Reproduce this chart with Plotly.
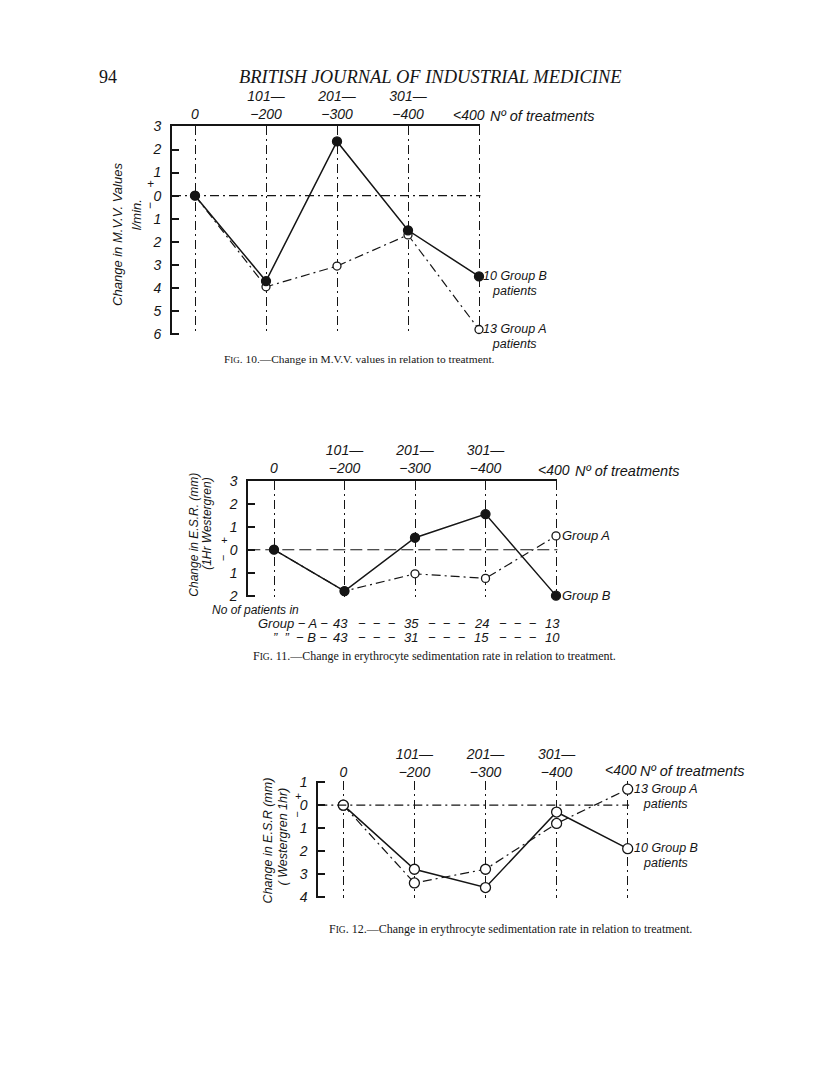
import plotly.graph_objects as go

W, H = 816, 1079
OFF = 8  # the page body margin shifts the figure by 8 px

# ---------------- data ----------------
positions = [0, 1, 2, 3, 4]
tick_labels = ["0", "101—<br>−200", "201—<br>−300", "301—<br>−400", "&lt;400"]

# Fig. 10 – change in M.V.V. values (l/min.)
mvv_group_b = [0, -3.7, 2.35, -1.5, -3.5]
mvv_group_a = [0, -3.95, -3.05, -1.7, -5.8]

# Fig. 11 – change in E.S.R. (mm, 1 hr Westergren)
esr11_group_b = [0, -1.8, 0.52, 1.55, -2.0]
esr11_group_a = [0, -1.8, -1.05, -1.25, 0.6]
patients_a = [43, 35, 24, 13]
patients_b = [43, 31, 15, 10]

# Fig. 12 – change in E.S.R. (mm, Westergren 1 hr)
esr12_group_b = [0, -2.8, -3.6, -0.3, -1.9]
esr12_group_a = [0, -3.4, -2.8, -0.8, 0.7]

# ---------------- layout helpers ----------------
INK = "#151515"
SANS = "Liberation Sans"
SERIF = "Liberation Serif"
DASHDOT = "9px,4px,2px,4px"


def P(x):
    return (x - OFF) / W


def Q(y):
    return 1 - (y - OFF) / H


panels = [
    dict(x0=195.0, step=71.0, left=172.0, z=190.2, unit=23.4, ymin=-6, ymax=3, top=True,
         lastshift=8, nshift=9),
    dict(x0=274.0, step=70.5, left=248.3, z=549.2, unit=23.3, ymin=-2, ymax=3, top=True,
         lastshift=16, nshift=17),
    dict(x0=343.3, step=71.1, left=318.3, z=808.3, unit=23.2, ymin=-4, ymax=1, top=False,
         lastshift=11, nshift=10),
]

fig = go.Figure()
layout = dict(
    width=W, height=H, margin=dict(l=0, r=0, t=0, b=0),
    paper_bgcolor="white", plot_bgcolor="rgba(0,0,0,0)",
    showlegend=False, annotations=[], shapes=[],
)

tick_font = dict(family=SANS, size=14, color=INK, style="italic")

for i, p in enumerate(panels):
    n = "" if i == 0 else str(i + 1)
    xr0 = (p["left"] - p["x0"]) / p["step"]
    xr1 = 4.02
    ylo = p["ymin"] - 0.05
    yhi = p["ymax"] + (0 if p["top"] else 0.06)
    xdom = [P(p["left"]), P(p["x0"] + xr1 * p["step"])]
    ydom = [Q(p["z"] - p["unit"] * ylo), Q(p["z"] - p["unit"] * yhi)]
    # the last category label sits left of its gridline, so it is placed as its own text below
    labels = tick_labels[:-1] + [""]
    layout["xaxis" + n] = dict(
        domain=xdom, range=[xr0, xr1], anchor="y" + n, side="top",
        showline=p["top"], linewidth=2, linecolor=INK,
        tickmode="array", tickvals=positions, ticktext=labels, ticks="",
        tickfont=tick_font, showgrid=True, gridcolor=INK, gridwidth=1.1,
        griddash=DASHDOT, zeroline=False, fixedrange=True,
    )
    yt = list(range(p["ymin"], p["ymax"] + 1))
    layout["yaxis" + n] = dict(
        domain=ydom, range=[ylo, yhi], anchor="x" + n,
        showline=True, linewidth=2, linecolor=INK,
        tickmode="array", tickvals=yt, ticktext=[str(abs(v)) for v in yt],
        ticks="inside", ticklen=7, tickwidth=1.5, tickcolor=INK,
        tickfont=tick_font, ticklabelstandoff=6,
        showgrid=False, zeroline=False, fixedrange=True,
    )
    # zero reference line
    layout["shapes"].append(dict(
        type="line", xref="x" + n + " domain", x0=0, x1=1, yref="y" + n, y0=0, y1=0,
        line=dict(color=INK, width=1.1, dash=("12px,5px" if i == 1 else DASHDOT)),
    ))
    # last category label and "No of treatments"
    layout["annotations"].append(dict(
        text=tick_labels[-1], xref="x" + n, x=positions[-1], yref="y" + n + " domain", y=1,
        xanchor="right", yanchor="bottom", xshift=p["lastshift"], yshift=1, showarrow=False,
        font=tick_font,
    ))
    layout["annotations"].append(dict(
        text="Nº of treatments", xref="x" + n, x=positions[-1], yref="y" + n + " domain", y=1,
        xanchor="left", yanchor="bottom", xshift=p["nshift"], yshift=0, showarrow=False,
        font=dict(family=SANS, size=14.5, color=INK, style="italic"),
    ))

fig.update_layout(**layout)


def add_series(xa, ya, ys, filled, dashed, size):
    fig.add_trace(go.Scatter(
        x=positions, y=ys, xaxis=xa, yaxis=ya, mode="lines+markers", cliponaxis=False,
        line=dict(color=INK, width=1.2 if dashed else 1.5, dash=DASHDOT if dashed else "solid"),
        marker=dict(symbol="circle", size=size, color=INK if filled else "white",
                    line=dict(color=INK, width=1.3)),
    ))


# Fig 10
add_series("x", "y", mvv_group_a, False, True, 8)
add_series("x", "y", mvv_group_b, True, False, 9)
# Fig 11
add_series("x2", "y2", esr11_group_a, False, True, 8)
add_series("x2", "y2", esr11_group_b, True, False, 9)
# Fig 12
add_series("x3", "y3", esr12_group_a, False, True, 10)
add_series("x3", "y3", esr12_group_b, False, False, 10)

ann = []
lab_font = dict(family=SANS, size=13, color=INK, style="italic")


def big(s):
    return "<span style='font-size:12.5px'>" + s + "</span>"


def label(xa, ya, yv, text, dx, two_lines=False):
    if two_lines:
        first, second = text
        ann.append(dict(text=big(first) + "<br>" + big(second), xref=xa, yref=ya, x=4, y=yv,
                        xanchor="left", yanchor="middle", align="center", xshift=dx, yshift=-7,
                        showarrow=False, font=dict(family=SANS, size=11.2, color=INK, style="italic")))
    else:
        ann.append(dict(text=text, xref=xa, yref=ya, x=4, y=yv, xanchor="left", yanchor="middle",
                        xshift=dx, showarrow=False, font=lab_font))


# end-of-line labels
label("x", "y", mvv_group_b[-1], ("10 Group B", "patients"), 2, True)
label("x", "y", mvv_group_a[-1], ("13 Group A", "patients"), 2, True)
label("x2", "y2", esr11_group_a[-1], "Group A", 4)
label("x2", "y2", esr11_group_b[-1], "Group B", 4)
label("x3", "y3", esr12_group_a[-1], ("13 Group A", "patients"), 4, True)
label("x3", "y3", esr12_group_b[-1], ("10 Group B", "patients"), 4, True)


def txt(text, x, y, size=14, angle=0, anchor="center", family=SANS, style="italic"):
    ann.append(dict(text=text, xref="paper", yref="paper", x=P(x), y=Q(y), xanchor=anchor,
                    yanchor="middle", textangle=angle, showarrow=False,
                    font=dict(family=family, size=size, color=INK, style=style)))


# y-axis titles
txt("Change in M.V.V. Values", 118, 230, 13, -90)
txt("l/min.", 136, 210, 13, -90)
txt("+", 150, 178, 12)
txt("−", 150, 201, 12, -90)

txt("Change in E.S.R. (mm)", 194, 534, 12, -90)
txt("(1Hr Westergren)", 207, 523, 12, -90)
txt("+", 224, 539, 11)
txt("−", 223, 558, 11, -90)

txt("Change in E.S.R (mm)", 268, 844, 12.5, -90)
txt("( Westergren 1hr)", 283, 840, 12.5, -90)
txt("+", 298, 799, 11)
txt("−", 297, 818, 11, -90)

# patient counts under Fig. 11
txt("No of patients in", 210, 610.5, 12, anchor="left")
row_font = dict(family=SANS, size=13, color=INK, style="italic")
for yv_px, prefix, counts in [(624, "Group − A − ", patients_a), (638, "\u201d  \u201d  − B − ", patients_b)]:
    ann.append(dict(text=prefix, xref="x2", x=1, yref="paper", y=Q(yv_px), xanchor="right",
                    yanchor="middle", xshift=-12, showarrow=False, font=row_font))
    for k, c in enumerate(counts):
        ann.append(dict(text=str(c), xref="x2", x=k + 1, yref="paper", y=Q(yv_px), xanchor="center",
                        yanchor="middle", xshift=-4, showarrow=False, font=row_font))
        if k < 3:
            ann.append(dict(text="−  −  −", xref="x2", x=k + 1.5, yref="paper", y=Q(yv_px),
                            xanchor="center", yanchor="middle", xshift=-3, showarrow=False,
                            font=row_font))

# page header
txt("94", 97, 70, 18, anchor="left", family=SERIF, style="normal")
txt("BRITISH JOURNAL OF INDUSTRIAL MEDICINE", 237, 70, 18.5, anchor="left", family=SERIF)

# captions
sc = "<span style='font-size:9px'>IG</span>"
sc2 = "<span style='font-size:9.5px'>IG</span>"
txt("F" + sc + ". 10.—Change in M.V.V. values in relation to treatment.", 359, 356, 11.4,
    family=SERIF, style="normal")
txt("F" + sc2 + ". 11.—Change in erythrocyte sedimentation rate in relation to treatment.", 434, 657, 12,
    family=SERIF, style="normal")
txt("F" + sc2 + ". 12.—Change in erythrocyte sedimentation rate in relation to treatment.", 510, 934, 12,
    family=SERIF, style="normal")

fig.update_layout(annotations=list(fig.layout.annotations) + ann)
fig.write_html("out.html")
